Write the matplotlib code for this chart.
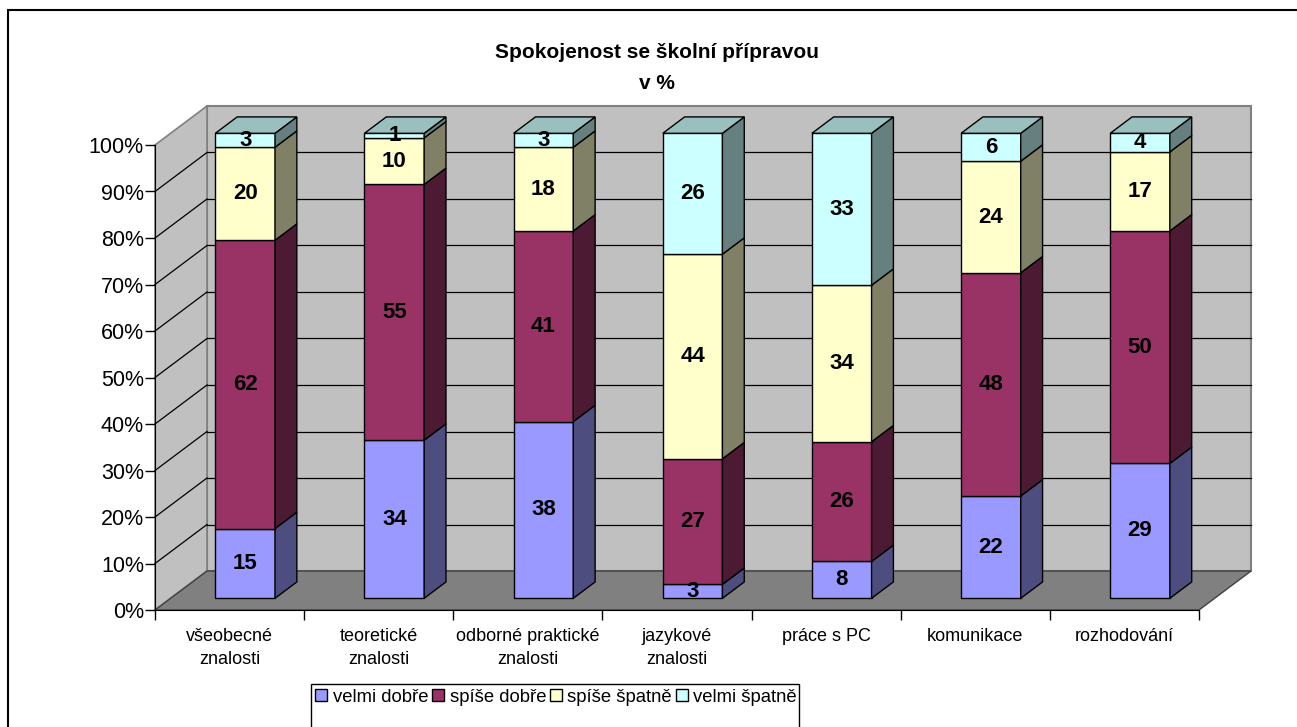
import matplotlib
matplotlib.use("Agg")
import matplotlib.pyplot as plt
from matplotlib.patches import Polygon, Rectangle, Patch

plt.rcParams['font.family'] = ['Liberation Sans', 'DejaVu Sans']

# data (values shown on the bars)
categories = ['všeobecné\nznalosti', 'teoretické\nznalosti', 'odborné praktické\nznalosti',
              'jazykové\nznalosti', 'práce s PC', 'komunikace', 'rozhodování']
velmi_dobre = [15, 34, 38, 3, 8, 22, 29]
spise_dobre = [62, 55, 41, 27, 26, 48, 50]
spise_spatne = [20, 10, 18, 44, 34, 24, 17]
velmi_spatne = [3, 1, 3, 26, 33, 6, 4]
series_names = ['velmi dobře', 'spíše dobře', 'spíše špatně', 'velmi špatně']
y_ticks = [0, 10, 20, 30, 40, 50, 60, 70, 80, 90, 100]

# excel-like colours: front, side, top
front_col = ['#9999FF', '#993366', '#FFFFCC', '#CCFFFF']
side_col = ['#4D4D80', '#4D1A33', '#808066', '#668080']
top_col = ['#7373BF', '#73264D', '#BFBF99', '#99BFBF']

W, H = 1297, 727
fig = plt.figure(figsize=(W / 100, H / 100), dpi=100)
fig.patch.set_facecolor('white')

# front plane of the 3d box
L, R, B, T = 155, 1199, 610, 145
ax = fig.add_axes([L / W, 1 - B / H, (R - L) / W, (B - T) / H])
ax.set_xlim(0, len(categories))
ax.set_ylim(0, 100)
ax.patch.set_visible(False)

# depth offset (in data units) of the back wall
DX = 52 / ((R - L) / len(categories))
DY = 39 / ((B - T) / 100)
D0, D1 = 0.30, 0.72  # bar depth range
BW = 0.4  # bar width


def proj(x, y, d):
    return (x + d * DX, y + d * DY)


n = len(categories)
# walls and floor
ax.add_patch(Polygon([proj(0, 0, 1), proj(n, 0, 1), proj(n, 100, 1), proj(0, 100, 1)],
                     closed=True, fc='#C0C0C0', ec='#808080', lw=1.5, clip_on=False, zorder=0.5))
ax.add_patch(Polygon([proj(0, 0, 0), proj(0, 0, 1), proj(0, 100, 1), proj(0, 100, 0)],
                     closed=True, fc='#C0C0C0', ec='#808080', lw=1.2, clip_on=False, zorder=0.6))
ax.add_patch(Polygon([proj(0, 0, 0), proj(n, 0, 0), proj(n, 0, 1), proj(0, 0, 1)],
                     closed=True, fc='#808080', ec='#404040', lw=1.0, clip_on=False, zorder=0.7))

# gridlines on back and left wall
for t in y_ticks[1:-1]:
    a, b = proj(0, t, 1), proj(n, t, 1)
    ax.plot([a[0], b[0]], [a[1], b[1]], color='black', lw=0.9, clip_on=False, zorder=1)
    a, b = proj(0, t, 0), proj(0, t, 1)
    ax.plot([a[0], b[0]], [a[1], b[1]], color='black', lw=0.9, clip_on=False, zorder=1)

series = [velmi_dobre, spise_dobre, spise_spatne, velmi_spatne]
for i in range(n):
    total = sum(s[i] for s in series)
    bottom = 0
    x0 = i + 0.5 - BW / 2
    for k, s in enumerate(series):
        h = s[i] / total * 100
        ax.bar(i + 0.5 + D0 * DX, h, width=BW, bottom=bottom + D0 * DY,
               color=front_col[k], edgecolor='black', lw=1.0, zorder=3, clip_on=False)
        side = [proj(x0 + BW, bottom, D0), proj(x0 + BW, bottom, D1),
                proj(x0 + BW, bottom + h, D1), proj(x0 + BW, bottom + h, D0)]
        ax.add_patch(Polygon(side, closed=True, fc=side_col[k], ec='black', lw=1.0,
                             clip_on=False, zorder=3))
        ax.text(i + 0.5 + D0 * DX, bottom + h / 2 + D0 * DY, str(s[i]), ha='center',
                va='center', fontsize=16, fontweight='bold', zorder=5, clip_on=False)
        bottom += h
    top = [proj(x0, 100, D0), proj(x0 + BW, 100, D0), proj(x0 + BW, 100, D1), proj(x0, 100, D1)]
    ax.add_patch(Polygon(top, closed=True, fc=top_col[-1], ec='black', lw=1.0,
                         clip_on=False, zorder=3))

for sp in ['top', 'right']:
    ax.spines[sp].set_visible(False)
ax.spines['left'].set_color('black')
ax.spines['bottom'].set_color('black')
ax.spines['left'].set_zorder(2)
ax.spines['bottom'].set_zorder(2)

ax.set_yticks(y_ticks)
ax.set_yticklabels([f'{t}%' for t in y_ticks])
ax.tick_params(axis='y', length=7, width=1, direction='out', labelsize=15.5, pad=1)
ax.set_xticks([i + 0.5 for i in range(n)])
ax.set_xticklabels(categories, linespacing=1.45)
ax.set_xticks(range(n + 1), minor=True)
ax.tick_params(axis='x', which='major', length=0, labelsize=13, pad=13)
ax.tick_params(axis='x', which='minor', length=7, width=1, direction='out')

# title
fig.text(657 / W, 1 - 68 / H, 'Spokojenost se školní přípravou\nv %', ha='center',
         va='center', fontsize=15, fontweight='bold', linespacing=1.8)

# legend
handles = [Patch(facecolor=c, edgecolor='black') for c in front_col]
fig.legend(handles, series_names, loc='center', bbox_to_anchor=(556 / W, 1 - 697 / H),
           ncol=4, frameon=False, fontsize=13.3, handlelength=0.65, handleheight=0.65,
           handletextpad=0.3, columnspacing=0.2, borderaxespad=0)
fig.add_artist(Rectangle((311 / W, -0.05), (799 - 311) / W, (727 - 684) / H + 0.05,
                         transform=fig.transFigure, fill=False, ec='black', lw=1.0))

# chart border
fig.add_artist(Rectangle((8 / W, -0.05), 1.1, 1 - 10 / H + 0.05,
                         transform=fig.transFigure, fill=False, ec='black', lw=1.5))

plt.savefig('out.png', dpi=100)
